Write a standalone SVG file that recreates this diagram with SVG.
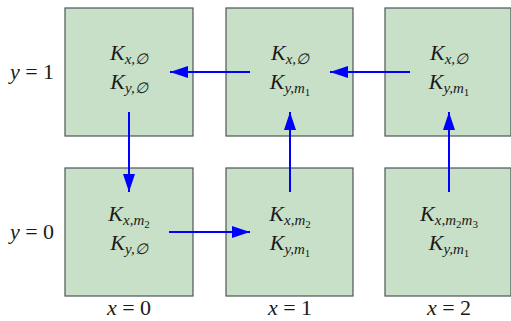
<svg xmlns="http://www.w3.org/2000/svg" width="511" height="321" viewBox="0 0 511 321">
<style>
.box{fill:#c8e0c7;stroke:#4b5655;stroke-width:1.2}
.t{font-family:"Liberation Serif",serif;font-size:22px;fill:#1a1a1a;text-anchor:middle}
.i{font-style:italic}
.s{font-size:15px;font-style:italic}
.d{font-size:11px;font-style:normal}
.c{stroke:#0000ff;stroke-width:2;fill:none}
</style>
<defs>
<marker id="ah" viewBox="0 0 18 12" refX="18" refY="6" markerWidth="18" markerHeight="12" markerUnits="userSpaceOnUse" orient="auto">
<path d="M0,0 L18,6 L0,12 Z" fill="#0000ff"/>
</marker>
</defs>
<g id="n00"><rect class="box" x="65" y="8" width="128" height="128"/>
<text class="t" x="129" y="60"><tspan class="i">K</tspan><tspan class="s" dy="4">x,∅</tspan></text>
<text class="t" x="129" y="89"><tspan class="i">K</tspan><tspan class="s" dy="4">y,∅</tspan></text></g>
<g id="n10"><rect class="box" x="226" y="8" width="127" height="128"/>
<text class="t" x="290" y="60"><tspan class="i">K</tspan><tspan class="s" dy="4">x,∅</tspan></text>
<text class="t" x="290" y="89"><tspan class="i">K</tspan><tspan class="s" dy="4">y,m</tspan><tspan class="d" dy="3">1</tspan></text></g>
<g id="n20"><rect class="box" x="385" y="8" width="126" height="128"/>
<text class="t" x="449" y="60"><tspan class="i">K</tspan><tspan class="s" dy="4">x,∅</tspan></text>
<text class="t" x="449" y="89"><tspan class="i">K</tspan><tspan class="s" dy="4">y,m</tspan><tspan class="d" dy="3">1</tspan></text></g>
<g id="n01"><rect class="box" x="65" y="168" width="128" height="128"/>
<text class="t" x="129" y="221"><tspan class="i">K</tspan><tspan class="s" dy="4">x,m</tspan><tspan class="d" dy="3">2</tspan></text>
<text class="t" x="129" y="250"><tspan class="i">K</tspan><tspan class="s" dy="4">y,∅</tspan></text></g>
<g id="n11"><rect class="box" x="226" y="168" width="127" height="128"/>
<text class="t" x="290" y="221"><tspan class="i">K</tspan><tspan class="s" dy="4">x,m</tspan><tspan class="d" dy="3">2</tspan></text>
<text class="t" x="290" y="250"><tspan class="i">K</tspan><tspan class="s" dy="4">y,m</tspan><tspan class="d" dy="3">1</tspan></text></g>
<g id="n21"><rect class="box" x="385" y="168" width="126" height="128"/>
<text class="t" x="449" y="221"><tspan class="i">K</tspan><tspan class="s" dy="4">x,m</tspan><tspan class="d" dy="3">2</tspan><tspan class="s" dy="-3">m</tspan><tspan class="d" dy="3">3</tspan></text>
<text class="t" x="449" y="250"><tspan class="i">K</tspan><tspan class="s" dy="4">y,m</tspan><tspan class="d" dy="3">1</tspan></text></g>
<g id="labels">
<text class="t" x="32" y="79"><tspan class="i">y</tspan> = 1</text>
<text class="t" x="32" y="239"><tspan class="i">y</tspan> = 0</text>
<text class="t" x="129" y="315"><tspan class="i">x</tspan> = 0</text>
<text class="t" x="290" y="315"><tspan class="i">x</tspan> = 1</text>
<text class="t" x="449" y="315"><tspan class="i">x</tspan> = 2</text>
</g>
<g id="connectors">
<line class="c" x1="250" y1="72" x2="170" y2="72" marker-end="url(#ah)"/>
<line class="c" x1="410" y1="72" x2="330" y2="72" marker-end="url(#ah)"/>
<line class="c" x1="129" y1="112" x2="129" y2="192" marker-end="url(#ah)"/>
<line class="c" x1="169" y1="232" x2="250" y2="232" marker-end="url(#ah)"/>
<line class="c" x1="290" y1="192" x2="290" y2="112" marker-end="url(#ah)"/>
<line class="c" x1="449" y1="192" x2="449" y2="112" marker-end="url(#ah)"/>
</g>
</svg>
